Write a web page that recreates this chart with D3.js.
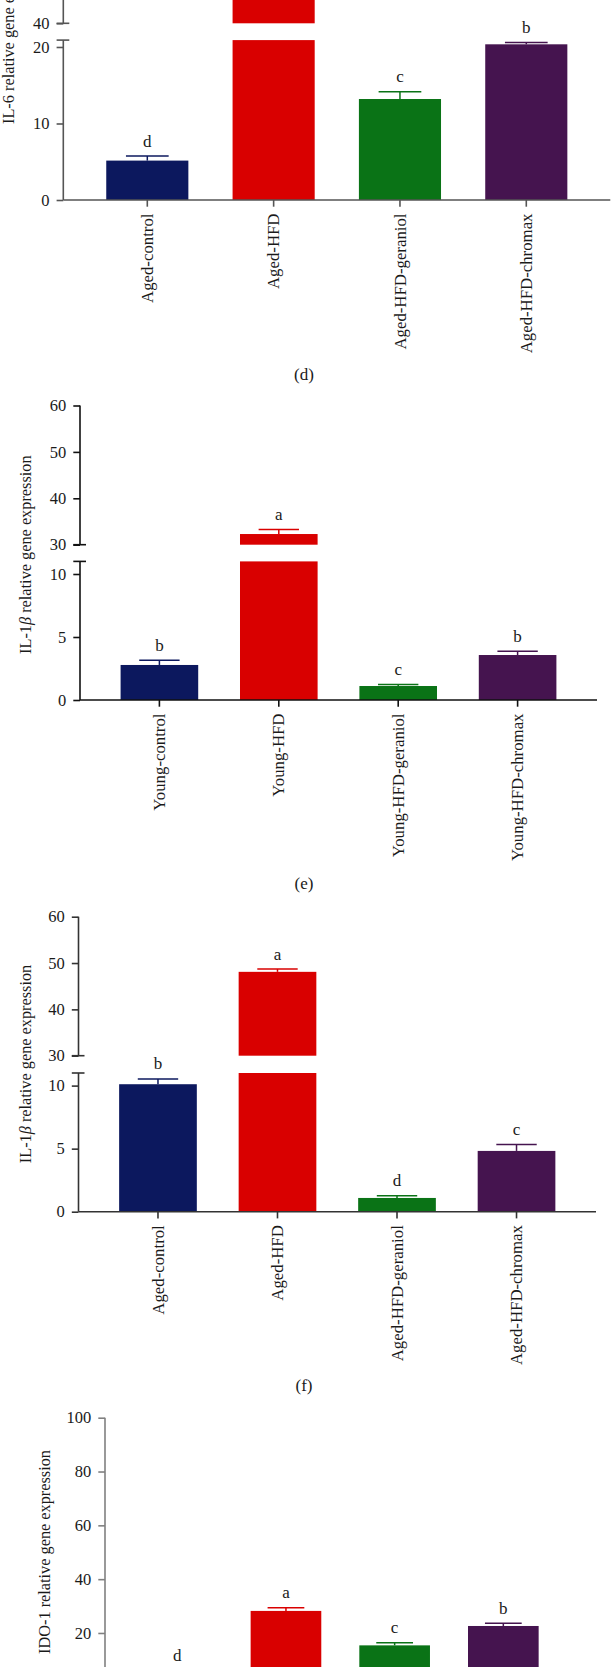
<!DOCTYPE html>
<html>
<head>
<meta charset="utf-8">
<script src="https://cdn.jsdelivr.net/npm/d3@7"></script>
<style>
  html, body { margin: 0; padding: 0; background: #fff; }
  svg { display: block; }
  text { font-family: "Liberation Serif", "Times New Roman", serif; fill: #1a1a1a; }
</style>
</head>
<body>
<svg id="chart" width="613" height="1667"></svg>
<script>
// ---------------- data ----------------
const catsAged  = ["Aged-control", "Aged-HFD", "Aged-HFD-geraniol", "Aged-HFD-chromax"];
const catsYoung = ["Young-control", "Young-HFD", "Young-HFD-geraniol", "Young-HFD-chromax"];
const barColors = ["#0c185e", "#d90000", "#0a7316", "#45144f"];

// (d) IL-6, aged
const il6AgedMean    = [5.15, 65, 13.2, 20.35];
const il6AgedErr     = [0.6, 3.0, 0.95, 0.22];
const il6AgedLetters = ["d", "a", "c", "b"];
const il6LowerTicks  = [0, 10, 20];
const il6UpperTicks  = [40];

// (e) IL-1beta, young
const il1bYoungMean    = [2.78, 32.3, 1.11, 3.57];
const il1bYoungErr     = [0.37, 1.0, 0.13, 0.29];
const il1bYoungLetters = ["b", "a", "c", "b"];

// (f) IL-1beta, aged
const il1bAgedMean    = [10.11, 48.1, 1.09, 4.82];
const il1bAgedErr     = [0.42, 0.6, 0.18, 0.5];
const il1bAgedLetters = ["b", "a", "d", "c"];

const il1bLowerTicks = [0, 5, 10];
const il1bUpperTicks = [30, 40, 50, 60];

// (g) IDO-1, aged
const ido1AgedMean    = [4.8, 28.2, 15.4, 22.6];
const ido1AgedErr     = [1.1, 1.2, 1.0, 1.0];
const ido1AgedLetters = ["d", "a", "c", "b"];
const ido1Ticks       = [0, 20, 40, 60, 80, 100];

// ---------------- layout ----------------
const panels = [
  { cats: catsAged, mean: il6AgedMean, err: il6AgedErr, letters: il6AgedLetters,
    x0: 63.3, x1: 610.3, axisColor: "#555",
    lower: { domain: [0, 20.9], range: [200, 40.1], ticks: il6LowerTicks },
    upper: { domain: [40, 80], range: [23.3, -116], ticks: il6UpperTicks },
    ylabel: "IL-6 relative gene expression", ylx: 8.5, yly: 124, ylAnchor: "start",
    tag: "(d)", tagY: 380 },
  { cats: catsYoung, mean: il1bYoungMean, err: il1bYoungErr, letters: il1bYoungLetters,
    x0: 80, x1: 597, axisColor: "#111",
    lower: { domain: [0, 11], range: [700, 561.4], ticks: il1bLowerTicks },
    upper: { domain: [30, 60], range: [544.7, 405.5], ticks: il1bUpperTicks },
    ylabel: "IL-1β", ylx: 25.4, yly: 554.7, ylAnchor: "middle", beta: true,
    tag: "(e)", tagY: 889 },
  { cats: catsAged, mean: il1bAgedMean, err: il1bAgedErr, letters: il1bAgedLetters,
    x0: 78.5, x1: 596, axisColor: "#333",
    lower: { domain: [0, 11], range: [1211.7, 1073], ticks: il1bLowerTicks },
    upper: { domain: [30, 60], range: [1055.7, 916.7], ticks: il1bUpperTicks },
    ylabel: "IL-1β", ylx: 25.4, yly: 1064, ylAnchor: "middle", beta: true,
    tag: "(f)", tagY: 1391 },
  { cats: catsAged, mean: ido1AgedMean, err: ido1AgedErr, letters: ido1AgedLetters,
    x0: 105, x1: 575.6, axisColor: "#808080",
    lower: { domain: [0, 100], range: [1686.8, 1417.7], ticks: ido1Ticks },
    upper: null,
    ylabel: "IDO-1 relative gene expression", ylx: 43.8, yly: 1552, ylAnchor: "middle",
    tag: null }
];

const svg = d3.select("#chart");
const H = 1667;
const tagX = 304;

panels.forEach(p => {
  const g = svg.append("g");
  const x = d3.scaleBand().domain(p.cats).range([p.x0, p.x1])
              .paddingInner(0.35).paddingOuter(0.34);
  const yL = d3.scaleLinear().domain(p.lower.domain).range(p.lower.range);
  const yU = p.upper ? d3.scaleLinear().domain(p.upper.domain).range(p.upper.range) : null;
  const lowMax = p.lower.domain[1];
  const bw = x.bandwidth();
  const capW = bw * 0.52;

  // bars
  p.cats.forEach((c, i) => {
    const v = p.mean[i], e = p.err[i];
    const col = barColors[i];
    const bx = x(c);
    const top = v + e;
    if (!yU || v <= lowMax) {
      g.append("rect").attr("x", bx).attr("width", bw)
        .attr("y", yL(v)).attr("height", yL(0) - yL(v)).attr("fill", col);
    } else {
      g.append("rect").attr("x", bx).attr("width", bw)
        .attr("y", yL(lowMax)).attr("height", yL(0) - yL(lowMax)).attr("fill", col);
      g.append("rect").attr("x", bx).attr("width", bw)
        .attr("y", yU(v)).attr("height", yU(p.upper.domain[0]) - yU(v)).attr("fill", col);
    }
    const yf = (val) => (!yU || v <= lowMax) ? yL(val) : yU(val);
    const cx = bx + bw / 2;
    g.append("line").attr("x1", cx).attr("x2", cx).attr("y1", yf(v)).attr("y2", yf(top))
      .attr("stroke", col).attr("stroke-width", 1.5);
    g.append("line").attr("x1", cx - capW / 2).attr("x2", cx + capW / 2)
      .attr("y1", yf(top)).attr("y2", yf(top))
      .attr("stroke", col).attr("stroke-width", 1.5);
    const ly = yf(top) - 9.5;
    if (ly > 14 && ly < H + 2) {
      g.append("text").attr("x", cx).attr("y", ly)
        .attr("text-anchor", "middle").attr("font-size", 17).text(p.letters[i]);
    }
  });

  // y axis lower
  const axL = g.append("g").attr("transform", `translate(${p.x0},0)`)
    .call(d3.axisLeft(yL).tickValues(p.lower.ticks.filter(t => yL(t) < H)).tickSize(6.7).tickPadding(7)
      .tickFormat(d3.format("d")));
  styleAxis(axL, p.axisColor, 16.5);
  axL.select(".domain").remove();
  g.append("line").attr("x1", p.x0).attr("x2", p.x0)
    .attr("y1", yL(0)).attr("y2", yL(lowMax))
    .attr("stroke", p.axisColor).attr("stroke-width", 1.6);
  if (yU) {
    // break caps
    g.append("line").attr("x1", p.x0 - 6.7).attr("x2", p.x0 + 6)
      .attr("y1", yL(lowMax)).attr("y2", yL(lowMax))
      .attr("stroke", p.axisColor).attr("stroke-width", 1.6);
    const axU = g.append("g").attr("transform", `translate(${p.x0},0)`)
      .call(d3.axisLeft(yU).tickValues(p.upper.ticks).tickSize(6.7).tickPadding(7)
        .tickFormat(d3.format("d")));
    styleAxis(axU, p.axisColor, 16.5);
    axU.select(".domain").remove();
    g.append("line").attr("x1", p.x0).attr("x2", p.x0)
      .attr("y1", yU(p.upper.domain[0])).attr("y2", yU(p.upper.domain[1]))
      .attr("stroke", p.axisColor).attr("stroke-width", 1.6);
    g.append("line").attr("x1", p.x0 - 6.7).attr("x2", p.x0 + 6)
      .attr("y1", yU(p.upper.domain[0])).attr("y2", yU(p.upper.domain[0]))
      .attr("stroke", p.axisColor).attr("stroke-width", 1.6);
  }

  // x axis (only if visible)
  const y0 = yL(0);
  if (y0 < H) {
    const axX = g.append("g").attr("transform", `translate(0,${y0})`)
      .call(d3.axisBottom(x).tickSize(6.7).tickSizeOuter(0).tickPadding(7));
    styleAxis(axX, p.axisColor, 16.8);
    axX.select(".domain").remove();
    g.append("line").attr("x1", p.x0).attr("x2", p.x1).attr("y1", y0).attr("y2", y0)
      .attr("stroke", p.axisColor).attr("stroke-width", 1.6);
    axX.selectAll(".tick text")
      .attr("transform", "rotate(-90)")
      .attr("text-anchor", "end")
      .attr("x", -13.5).attr("y", 0).attr("dy", "0.33em");
  }

  // y label
  const yl = g.append("text")
    .attr("transform", `translate(${p.ylx},${p.yly}) rotate(-90)`)
    .attr("text-anchor", p.ylAnchor).attr("dy", "0.35em").attr("font-size", 16.3);
  if (p.beta) {
    yl.append("tspan").text("IL-1");
    yl.append("tspan").attr("font-style", "italic").text("β");
    yl.append("tspan").text(" relative gene expression");
  } else {
    yl.text(p.ylabel);
  }

  if (p.tag) {
    g.append("text").attr("x", tagX).attr("y", p.tagY)
      .attr("text-anchor", "middle").attr("font-size", 17).text(p.tag);
  }
});

function styleAxis(sel, color, fs) {
  sel.selectAll(".tick line").attr("stroke", color).attr("stroke-width", 1.6);
  sel.selectAll(".tick text").attr("fill", "#1a1a1a").attr("font-size", fs)
     .attr("font-family", '"Liberation Serif", "Times New Roman", serif');
  sel.attr("font-family", null);
}
</script>
</body>
</html>
